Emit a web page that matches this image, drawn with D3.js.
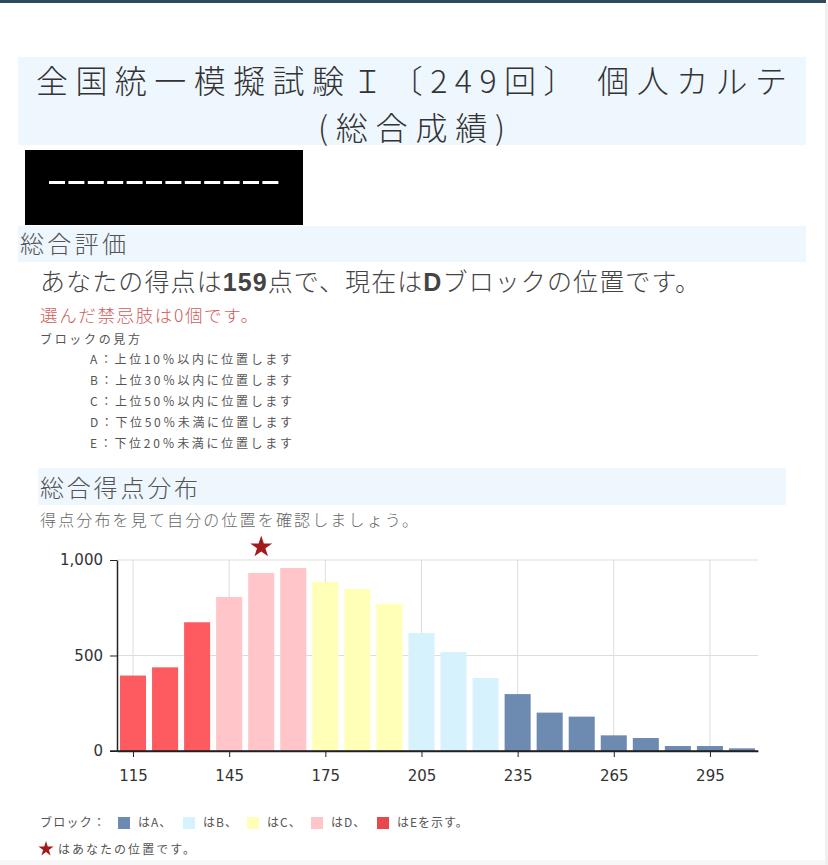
<!DOCTYPE html>
<html>
<head>
<meta charset="utf-8">
<script src="https://cdn.jsdelivr.net/npm/d3@7"></script>
<style>
  html, body { margin: 0; padding: 0; background: #fff; }
  svg { display: block; }
</style>
</head>
<body>
<svg id="page" width="828" height="865"></svg>
<script>
// score bins (bin centre) and the number of students in each
const bins = [115, 125, 135, 145, 155, 165, 175, 185, 195, 205, 215, 225, 235, 245, 255, 265, 275, 285, 295, 305]
const counts = [395, 438, 674, 806, 932, 958, 886, 848, 771, 618, 518, 382, 298, 201, 180, 82, 68, 26, 26, 14]
const blocks = ['E', 'E', 'E', 'D', 'D', 'D', 'C', 'C', 'C', 'B', 'B', 'B', 'A', 'A', 'A', 'A', 'A', 'A', 'A', 'A']
const xTicks = [115, 145, 175, 205, 235, 265, 295]
const yTicks = [0, 500, 1000]
const myBin = 155
const myScore = 159
const myBlock = 'D'

const blockNames = ['A', 'B', 'C', 'D', 'E']
const blockDesc = [
  'A：上位10％以内に位置します',
  'B：上位30％以内に位置します',
  'C：上位50％以内に位置します',
  'D：下位50％未満に位置します',
  'E：下位20％未満に位置します'
]
const legendLabels = ['はA、', 'はB、', 'はC、', 'はD、', 'はEを示す。']

const color = d3.scaleOrdinal()
  .domain(blockNames)
  .range(['#6d8bb0', '#d6f3fd', '#ffffb8', '#ffc5c9', '#fd5b60'])

const jp = '"Noto Sans CJK JP", "Noto Sans", sans-serif'
const svg = d3.select('#page')

// text helper: place a string and stretch it to the width seen on the page
function label(parent, x, y, str, size, fill, width) {
  const t = parent.append('text').attr('x', x).attr('y', y)
    .attr('font-family', jp).attr('font-weight', 300).attr('font-size', size).attr('fill', fill)
    .text(str)
  if (width) t.attr('textLength', width).attr('lengthAdjust', 'spacing')
  return t
}

// page frame
svg.append('rect').attr('x', 0).attr('y', 0).attr('width', 826).attr('height', 3).attr('fill', '#2e4b59')
svg.append('rect').attr('x', 825).attr('y', 3).attr('width', 3).attr('height', 862).attr('fill', '#f0f0f0')
svg.append('rect').attr('x', 0).attr('y', 860).attr('width', 825).attr('height', 5).attr('fill', '#f7f7f7')

// title
svg.append('rect').attr('x', 18).attr('y', 57).attr('width', 788).attr('height', 88).attr('fill', '#eef6fe')
label(svg, 36, 93, '全国統一模擬試験Ｉ〔249回〕 個人カルテ', 32, '#333', 751)
label(svg, 318, 139.5, '(総合成績)', 32, '#333', 187)

// masked name
svg.append('rect').attr('x', 25).attr('y', 150).attr('width', 278).attr('height', 75).attr('fill', '#000')
svg.append('g').selectAll('rect')
  .data(d3.range(12))
  .join('rect')
  .attr('x', (d) => 49 + d * 19.4)
  .attr('y', 181)
  .attr('width', 16)
  .attr('height', 3)
  .attr('fill', '#fff')

// 総合評価
svg.append('rect').attr('x', 18).attr('y', 226).attr('width', 788).attr('height', 36).attr('fill', '#eef6fe')
label(svg, 20, 253, '総合評価', 24, '#555', 106)

const result = svg.append('text').attr('x', 40).attr('y', 291)
  .attr('font-family', jp).attr('font-weight', 300).attr('font-size', 25).attr('fill', '#444')
  .attr('textLength', 660).attr('lengthAdjust', 'spacing')
result.append('tspan').text('あなたの得点は')
result.append('tspan').attr('font-weight', 700).attr('font-family', '"Liberation Sans", Arial, sans-serif').text(myScore)
result.append('tspan').text('点で、現在は')
result.append('tspan').attr('font-weight', 700).attr('font-family', '"Liberation Sans", Arial, sans-serif').text(myBlock)
result.append('tspan').text('ブロックの位置です。')

label(svg, 40, 322, '選んだ禁忌肢は0個です。', 17.5, '#cf5b5b', 218)
label(svg, 40, 344, 'ブロックの見方', 12, '#555', 100).attr('font-weight', 400)

svg.append('g').selectAll('text')
  .data(blockDesc)
  .join('text')
  .attr('x', 90)
  .attr('y', (d, i) => 364 + i * 21)
  .attr('font-family', jp).attr('font-size', 12).attr('fill', '#555')
  .attr('textLength', 202).attr('lengthAdjust', 'spacing')
  .text((d) => d)

// 総合得点分布
svg.append('rect').attr('x', 38).attr('y', 468).attr('width', 748).attr('height', 37).attr('fill', '#eef6fe')
label(svg, 40, 497, '総合得点分布', 24, '#555', 158)
label(svg, 40, 526, '得点分布を見て自分の位置を確認しましょう。', 16, '#666', 378)

// chart
const x = d3.scaleLinear().domain([110, 310]).range([117, 758])
const y = d3.scaleLinear().domain([0, 1000]).range([751, 560])
const chart = svg.append('g')

chart.append('g').selectAll('line')
  .data(xTicks)
  .join('line')
  .attr('x1', (d) => x(d)).attr('x2', (d) => x(d))
  .attr('y1', y(1000)).attr('y2', y(0))
  .attr('stroke', '#ddd')

chart.append('g').selectAll('line')
  .data(yTicks.filter((d) => d > 0))
  .join('line')
  .attr('x1', x(110)).attr('x2', x(310))
  .attr('y1', (d) => y(d)).attr('y2', (d) => y(d))
  .attr('stroke', '#ddd')

chart.append('g').selectAll('rect')
  .data(bins)
  .join('rect')
  .attr('x', (d) => x(d - 5) + 3)
  .attr('width', (d) => x(d + 5) - x(d - 5) - 6)
  .attr('y', (d, i) => y(counts[i]))
  .attr('height', (d, i) => y(0) - y(counts[i]))
  .attr('fill', (d, i) => color(blocks[i]))

const xAxis = chart.append('g')
  .attr('transform', `translate(0,${y(0)})`)
  .call(d3.axisBottom(x).tickValues(xTicks).tickSize(6).tickPadding(13).tickSizeOuter(0))
const yAxis = chart.append('g')
  .attr('transform', `translate(${x(110)},0)`)
  .call(d3.axisLeft(y).tickValues(yTicks).tickSize(7).tickPadding(7).tickSizeOuter(0).tickFormat(d3.format(',')))

for (const ax of [xAxis, yAxis]) {
  ax.select('.domain').attr('stroke', '#222').attr('stroke-width', 1.5)
  ax.selectAll('.tick line').attr('stroke', '#222')
  ax.selectAll('.tick text').attr('font-family', '"DejaVu Sans", Verdana, sans-serif')
    .attr('font-size', 15).attr('fill', '#333')
}
// x axis line extends under the y-axis tick at 0
chart.append('line').attr('x1', x(110) - 7).attr('x2', x(310))
  .attr('y1', y(0)).attr('y2', y(0)).attr('stroke', '#222').attr('stroke-width', 1.5)

const star = d3.symbol().type(d3.symbolStar)
chart.append('path')
  .attr('d', star.size(150)())
  .attr('transform', `translate(${x(myBin)},${y(1000) - 13})`)
  .attr('fill', '#a31a1a')

// legend
const legend = svg.append('g')
label(legend, 40, 827, 'ブロック：', 12, '#555', 65).attr('font-weight', 400)
const lx = [118, 183, 247, 311, 377]
const item = legend.selectAll('g.item')
  .data(blockNames)
  .join('g')
  .attr('class', 'item')
  .attr('transform', (d, i) => `translate(${lx[i]},817)`)
item.append('rect').attr('width', 12).attr('height', 12)
  .attr('fill', (d) => d === 'E' ? '#e8474e' : color(d))
item.append('text').attr('x', 20).attr('y', 10)
  .attr('font-family', jp).attr('font-size', 12).attr('fill', '#555')
  .attr('letter-spacing', 1)
  .text((d, i) => legendLabels[i])

legend.append('path')
  .attr('d', star.size(70)())
  .attr('transform', 'translate(46,849)')
  .attr('fill', '#a31a1a')
label(legend, 58, 854, 'はあなたの位置です。', 12, '#555', 137).attr('font-weight', 400)
</script>
</body>
</html>
